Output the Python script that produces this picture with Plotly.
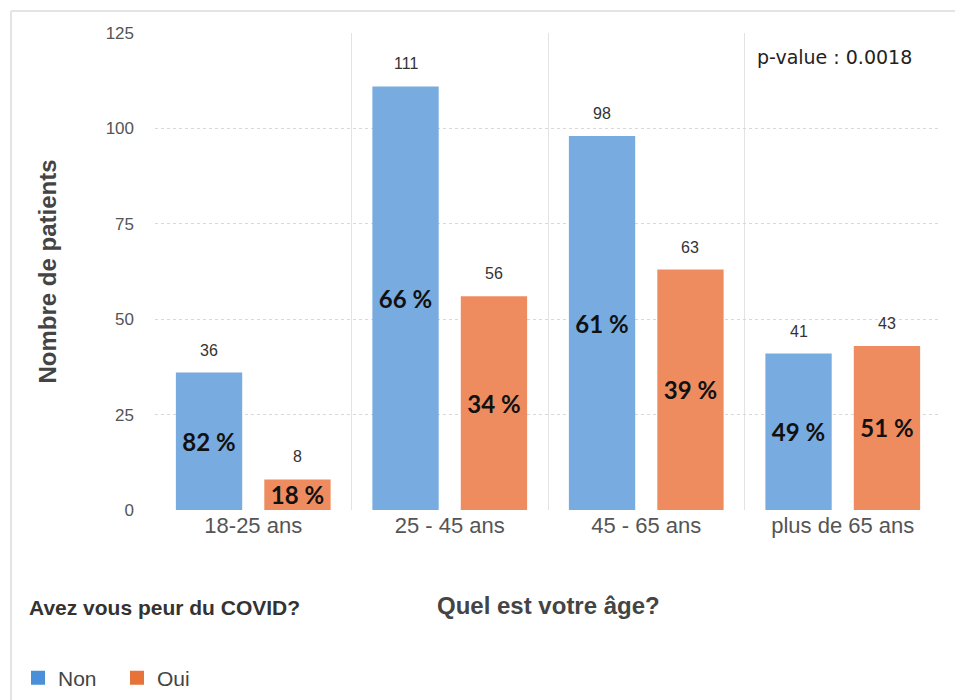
import plotly.graph_objects as go

# Survey data: fear of COVID by age group
age_groups = ["18-25 ans", "25 - 45 ans", "45 - 65 ans", "plus de 65 ans"]
non_counts = [36, 111, 98, 41]
oui_counts = [8, 56, 63, 43]
series_names = ["Non", "Oui"]
p_value_text = "p-value : 0.0018"

bar_colors = ["#78ACE0", "#EE8C5F"]
legend_colors = ["#4A90D9", "#E8733A"]

# percentage of each answer within its age group
totals = [a + b for a, b in zip(non_counts, oui_counts)]
non_pct = [round(100 * a / t) for a, t in zip(non_counts, totals)]
oui_pct = [round(100 * b / t) for b, t in zip(oui_counts, totals)]

W, H = 955, 700
M_L, M_R, M_T, M_B = 155, 14, 33, 190
plot_w = W - M_L - M_R
plot_h = H - M_T - M_B
BARGAP, BARGROUPGAP = 0.1, 0.25


def px_x(px):
    return (px - M_L) / plot_w


def px_y(py):
    return (H - M_B - py) / plot_h


fig = go.Figure()
for name, counts, pct, col in [
    (series_names[0], non_counts, non_pct, bar_colors[0]),
    (series_names[1], oui_counts, oui_pct, bar_colors[1]),
]:
    fig.add_trace(go.Bar(
        x=age_groups, y=counts, name=name, showlegend=False,
        marker=dict(color=col, line=dict(width=0)),
        text=[f"{p} %" for p in pct],
        textposition="inside", insidetextanchor="middle", textangle=0,
        insidetextfont=dict(family="Lato", size=24, color="#111111",
                            weight="bold"),
        hoverinfo="x+y",
    ))

# legend entries as small squares
for name, col in zip(series_names, legend_colors):
    fig.add_trace(go.Scatter(
        x=[None], y=[None], mode="markers", name=name,
        marker=dict(symbol="square", size=14, color=col),
    ))

# count labels above each bar
cat_px = plot_w / len(age_groups)
slot_px = cat_px * (1 - BARGAP) / 2
annotations = []
for counts, shift in [(non_counts, -slot_px / 2), (oui_counts, slot_px / 2)]:
    for g, v in zip(age_groups, counts):
        annotations.append(dict(
            x=g, y=v, xref="x", yref="y", text=str(v), showarrow=False,
            xshift=shift, yshift=12, yanchor="bottom",
            font=dict(family="Liberation Sans", size=16, color="#333333"),
        ))

annotations += [
    dict(x=px_x(755), y=px_y(57), xref="paper", yref="paper",
         text=p_value_text, showarrow=False, xanchor="left",
         yanchor="middle",
         font=dict(family="DejaVu Sans", size=19, color="#222222")),
    dict(x=0.5, y=px_y(605), xref="paper", yref="paper",
         text="<b>Quel est votre âge?</b>",
         showarrow=False, xanchor="center", yanchor="middle",
         font=dict(family="Liberation Sans", size=24, color="#444444")),
    dict(x=px_x(27), y=px_y(607), xref="paper", yref="paper",
         text="<b>Avez vous peur du COVID?</b>",
         showarrow=False, xanchor="left", yanchor="middle",
         font=dict(family="Liberation Sans", size=21, color="#333333")),
]

# light outer frame (top and left edges)
frame_col = "#E4E4E4"
shapes = [
    dict(type="line", xref="paper", yref="paper", x0=px_x(11), x1=1.1,
         y0=px_y(11), y1=px_y(11), line=dict(color=frame_col, width=2)),
    dict(type="line", xref="paper", yref="paper", x0=px_x(11), x1=px_x(11),
         y0=px_y(11), y1=px_y(720), line=dict(color=frame_col, width=2)),
]

fig.update_layout(
    width=W, height=H,
    margin=dict(l=M_L, r=M_R, t=M_T, b=M_B, autoexpand=False),
    paper_bgcolor="white", plot_bgcolor="white",
    barmode="group", bargap=BARGAP, bargroupgap=BARGROUPGAP,
    font=dict(family="Liberation Sans", color="#555555"),
    xaxis=dict(
        type="category", tickson="boundaries", showgrid=True,
        gridcolor="#E3E3E3", gridwidth=1, ticks="", showline=False,
        zeroline=False, tickfont=dict(size=22, color="#555555"),
        ticklabelstandoff=0, automargin=False,
    ),
    yaxis=dict(
        range=[0, 125], dtick=25, showgrid=True, gridcolor="#D8D8D8",
        griddash="dot", gridwidth=1, zeroline=False, showline=False,
        tickfont=dict(size=17, color="#555555"), ticklabelstandoff=20,
        automargin=False,
        title=dict(text="<b>Nombre de patients</b>", standoff=42,
                   font=dict(size=24, color="#444444")),
    ),
    legend=dict(
        orientation="h", x=px_x(18), y=px_y(678),
        xanchor="left", yanchor="middle",
        font=dict(size=21, color="#444444"), bgcolor="rgba(0,0,0,0)",
        entrywidth=54, entrywidthmode="pixels", itemwidth=30,
    ),
    annotations=annotations,
    shapes=shapes,
    uniformtext=dict(minsize=24, mode="show"),
)

fig.write_html("out.html")
